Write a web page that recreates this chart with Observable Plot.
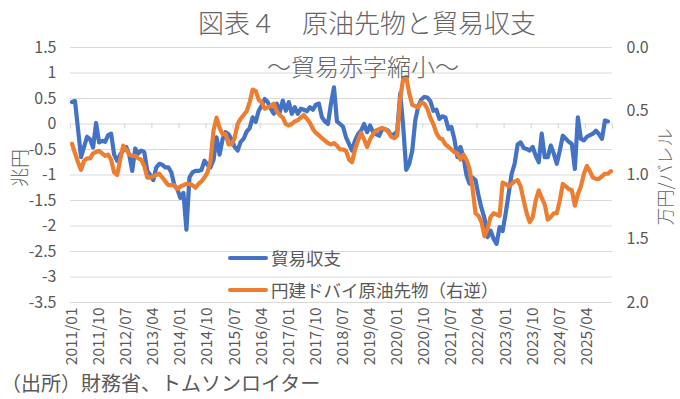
<!DOCTYPE html>
<html><head><meta charset="utf-8">
<script src="https://cdn.jsdelivr.net/npm/d3@7"></script>
<script src="https://cdn.jsdelivr.net/npm/@observablehq/plot@0.6"></script>
<style>
body{margin:0;background:#fff;}
#wrap{position:relative;width:680px;height:399px;overflow:hidden;font-family:"Noto Sans CJK JP","Noto Sans",sans-serif;color:#595959;}
.abs{position:absolute;white-space:nowrap;line-height:1;}
.light{font-weight:300;color:#666;}
</style></head><body>
<div id="wrap"></div>
<script>
// ---- data ----
const startYear = 2011, startMonth = 1;
const seriesNames = ["貿易収支", "円建ドバイ原油先物（右逆）"];
// 貿易収支 (兆円), monthly from 2011/01
const tradeBalance = [0.43,0.45,-0.1,-0.65,-0.45,-0.25,-0.3,-0.46,0.02,-0.36,
-0.33,-0.35,-0.22,-0.19,-0.6,-0.72,-0.6,-0.52,-0.45,-0.6,
-0.92,-0.48,-0.58,-0.52,-0.55,-0.92,-1.0,-1.1,-0.85,-0.78,
-0.8,-0.85,-0.85,-0.95,-1.2,-1.28,-1.45,-1.35,-2.07,-1.05,
-0.95,-0.92,-0.92,-0.9,-0.72,-0.8,-0.85,-0.7,-0.26,-0.6,
-0.3,-0.16,-0.2,-0.3,-0.45,-0.52,-0.35,-0.29,-0.15,-0.08,
0.13,0.04,0.26,0.36,0.49,0.43,0.3,0.2,0.4,0.23,
0.46,0.26,0.43,0.2,0.33,0.2,0.3,0.28,0.25,0.33,
0.28,0.38,0.4,0.13,0.05,0.0,0.4,0.72,0.05,0.0,
-0.05,-0.26,-0.39,-0.52,-0.32,-0.2,-0.13,0.0,-0.16,-0.03,
-0.16,-0.2,-0.23,-0.1,-0.1,-0.13,-0.23,-0.2,-0.15,0.6,
-0.06,-0.9,-0.78,-0.52,0.07,0.35,0.48,0.53,0.52,0.45,
0.26,0.28,0.1,0.15,0.13,-0.1,-0.06,-0.3,-0.65,-0.45,
-0.65,-1.0,-1.17,-1.05,-1.1,-1.4,-1.65,-1.85,-2.22,-2.09,
-2.25,-2.35,-2.02,-2.1,-1.76,-1.37,-0.98,-0.78,-0.4,-0.36,
-0.47,-0.49,-0.52,-0.45,-0.62,-0.75,-0.19,-0.65,-0.65,-0.42,
-0.58,-0.78,-0.52,-0.23,-0.29,-0.35,-0.39,-0.88,0.13,-0.29,
-0.32,-0.25,-0.22,-0.19,-0.13,-0.2,-0.29,0.07,0.05];
// 円建ドバイ原油先物 (万円/バレル), monthly from 2011/01
const oilYen = [0.755,0.83,0.9,0.96,0.89,0.87,0.87,0.83,0.82,0.81,
0.83,0.85,0.84,0.88,0.98,1.0,0.88,0.77,0.8,0.84,
0.85,0.85,0.87,0.88,0.93,1.02,1.02,1.01,1.0,0.99,
1.02,1.05,1.08,1.08,1.08,1.11,1.09,1.08,1.07,1.07,
1.08,1.1,1.07,1.05,1.02,0.98,0.89,0.65,0.55,0.63,
0.68,0.68,0.76,0.76,0.71,0.6,0.56,0.53,0.5,0.43,
0.33,0.34,0.41,0.43,0.48,0.47,0.46,0.44,0.5,0.53,
0.55,0.6,0.61,0.6,0.58,0.57,0.55,0.53,0.56,0.59,
0.64,0.67,0.69,0.71,0.73,0.75,0.76,0.75,0.77,0.8,
0.8,0.81,0.88,0.9,0.8,0.73,0.67,0.72,0.78,0.72,
0.68,0.65,0.64,0.63,0.64,0.66,0.7,0.71,0.69,0.4,
0.24,0.23,0.36,0.45,0.46,0.47,0.43,0.44,0.48,0.55,
0.6,0.67,0.71,0.72,0.76,0.78,0.8,0.82,0.83,0.88,
0.84,0.88,0.95,1.1,1.3,1.32,1.37,1.48,1.42,1.33,
1.3,1.31,1.32,1.06,1.07,1.09,1.07,1.05,1.04,1.09,
1.2,1.3,1.37,1.33,1.2,1.12,1.18,1.23,1.35,1.33,
1.3,1.3,1.2,1.07,1.09,1.11,1.12,1.24,1.15,1.09,
0.99,0.93,0.97,1.02,1.03,1.03,1.01,0.99,0.99,0.97];
const leftTicks = [1.5,1,0.5,0,-0.5,-1,-1.5,-2,-2.5,-3,-3.5];
const rightTicks = [0.0,0.5,1.0,1.5,2.0];
const xTickLabels = ["2011/01","2011/10","2012/07","2013/04","2014/01","2014/10","2015/07","2016/04","2017/01","2017/10",
"2018/07","2019/04","2020/01","2020/10","2021/07","2022/04","2023/01","2023/10","2024/07","2025/04"];
const nCategories = 180; // 2011/01 .. 2025/12

// ---- derived ----
const leftDomain = [d3.min(leftTicks), d3.max(leftTicks)];
const rightDomain = [d3.min(rightTicks), d3.max(rightTicks)];
// right axis is reversed: right min -> left max
const toLeft = d3.scaleLinear().domain([rightDomain[0], rightDomain[1]]).range([leftDomain[1], leftDomain[0]]);
const labelIndex = s => { const [y, m] = s.split("/").map(Number); return (y - startYear) * 12 + (m - startMonth); };
const tickIdx = xTickLabels.map(labelIndex);
const idxToLabel = new Map(xTickLabels.map(s => [labelIndex(s), s]));
const blue = tradeBalance.map((v, i) => ({i, v}));
const orange = oilYen.map((r, i) => ({i, v: toLeft(r)}));
const boundaries = tickIdx.map(i => i - 0.5).concat([nCategories - 0.5]);

const GRID = "#d9d9d9", TXT = "#595959";
const chart = Plot.plot({
  width: 680, height: 399,
  marginLeft: 70, marginRight: 68, marginTop: 47, marginBottom: 97,
  style: {fontFamily: '"Noto Sans CJK JP","Noto Sans",sans-serif', fontSize: "16px", color: TXT, background: "transparent"},
  x: {domain: [-0.5, nCategories - 0.5], axis: null},
  y: {domain: leftDomain, axis: null},
  marks: [
    Plot.ruleY(leftTicks, {stroke: GRID, strokeWidth: 1.2}),
    Plot.ruleX(boundaries, {y1: 0, y2: -0.1, stroke: GRID, strokeWidth: 1.2}),
    Plot.axisY({anchor: "left", ticks: leftTicks, tickSize: 0, tickPadding: 14, tickFormat: d => String(d), label: null, fill: TXT}),
    Plot.axisY({anchor: "right", ticks: rightTicks.map(toLeft), tickSize: 0, tickPadding: 14,
      tickFormat: v => toLeft.invert(v).toFixed(1), label: null, fill: TXT}),
    Plot.axisX({anchor: "bottom", ticks: tickIdx, tickFormat: i => idxToLabel.get(i), tickRotate: -90,
      tickSize: 0, tickPadding: 5, label: null, fontSize: 15.5, fill: TXT}),
    Plot.line(blue, {x: "i", y: "v", stroke: "#4472C4", strokeWidth: 4.2}),
    Plot.line(orange, {x: "i", y: "v", stroke: "#ED7D31", strokeWidth: 4.2})
  ]
});
const wrap = document.getElementById("wrap");
wrap.appendChild(chart);
chart.style.position = "absolute"; chart.style.left = "0"; chart.style.top = "0";

function addText(txt, cx, cy, size, opts = {}) {
  const d = document.createElement("div");
  d.className = "abs" + (opts.cls ? " " + opts.cls : "");
  d.textContent = txt;
  d.style.fontSize = size + "px";
  d.style.left = cx + "px";
  d.style.top = cy + "px";
  const rot = opts.rotate ? ` rotate(${opts.rotate}deg)` : "";
  d.style.transform = opts.left ? `translate(0,-50%)${rot}` : `translate(-50%,-50%)${rot}`;
  wrap.appendChild(d);
  return d;
}
function addSwatch(color, x1, x2, cy) {
  const d = document.createElement("div");
  d.style.cssText = `position:absolute;left:${x1}px;top:${cy - 2}px;width:${x2 - x1}px;height:4px;background:${color};border-radius:2px;`;
  wrap.appendChild(d);
}
addText("図表４　原油先物と貿易収支", 367, 22, 26, {cls: "light"});
addText("～貿易赤字縮小～", 363, 66, 24, {cls: "light"});
addText("兆円", 18, 168, 19, {rotate: -90, cls: "light"});
addText("万円/バレル", 664, 177, 18, {rotate: -90, cls: "light"});
addSwatch("#4472C4", 228, 268, 258);
addText(seriesNames[0], 271, 258, 17.5, {left: true});
addSwatch("#ED7D31", 228, 268, 290);
addText(seriesNames[1], 271, 290, 17.5, {left: true});
addText("（出所）財務省、トムソンロイター", 1, 383, 20, {left: true});
</script>
</body></html>
